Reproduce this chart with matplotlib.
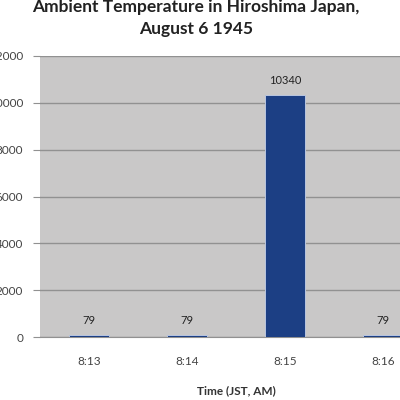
import matplotlib
matplotlib.use('Agg')
import matplotlib.pyplot as plt

plt.rcParams['font.family'] = ['Lato', 'DejaVu Sans']

# Данные с графика
times = ['8:13', '8:14', '8:15', '8:16']
temps = [79, 79, 10340, 79]
y_ticks = [0, 2000, 4000, 6000, 8000, 10000, 12000]

fig = plt.figure(figsize=(4, 4), dpi=100)
fig.patch.set_facecolor('white')

# Область графика выходит за правый край, как на исходной картинке
ax = fig.add_axes([0.10, 0.1575, 0.98, 0.7025])
ax.set_facecolor('#c9c8c8')

x = list(range(len(times)))
ax.bar(x, temps, width=0.4, color='#1c3f84', edgecolor='#b9c6e0', linewidth=0.7, zorder=3)

for xi, t in zip(x, temps):
    ax.text(xi, t + 380, str(t), ha='center', va='bottom', fontsize=8, color='#222222')

ax.set_xlim(-0.5, len(times) - 0.5)
ax.set_ylim(0, 12000)
ax.set_yticks(y_ticks)
ax.set_yticklabels([str(v) for v in y_ticks], fontsize=8.5, color='#444444')
ax.set_xticks(x)
ax.set_xticklabels(times, fontsize=8.5, color='#444444')

ax.yaxis.grid(True, color='#919191', linewidth=1, zorder=0)
ax.set_axisbelow(True)
for side in ['top', 'right', 'left']:
    ax.spines[side].set_visible(False)
ax.spines['bottom'].set_color('#919191')
ax.tick_params(axis='y', length=5, color='#919191', pad=7)
ax.tick_params(axis='x', length=0, pad=14)

ax.set_xlabel('Time (JST, AM)', fontsize=8.5, fontweight='bold', color='#333333', labelpad=13)

fig.text(0.49, 0.955, 'Ambient Temperature in Hiroshima Japan,\nAugust 6 1945',
         ha='center', va='center', multialignment='center', fontsize=12.5,
         fontweight='bold', color='#222222', linespacing=1.45)

fig.savefig('out.png', dpi=100)
